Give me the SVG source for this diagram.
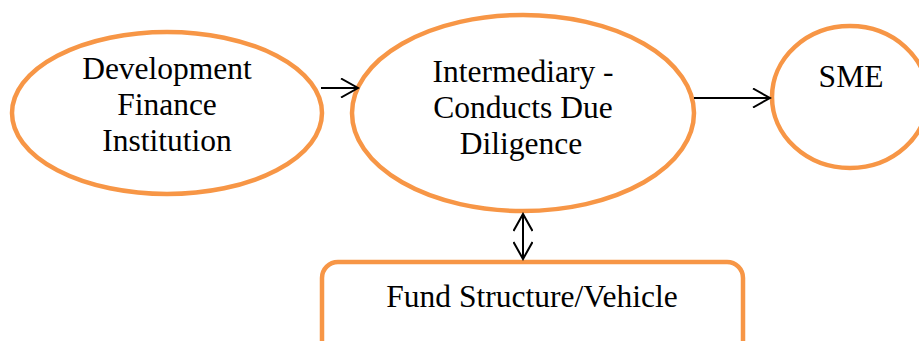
<svg xmlns="http://www.w3.org/2000/svg" width="919" height="341" viewBox="0 0 919 341">
  <style>
    .shape { fill: #ffffff; stroke: #F79646; stroke-width: 4.5; }
    .label { font-family: "Liberation Serif", "Times New Roman", serif; font-size: 31.5px; fill: #000000; text-anchor: middle; }
    .link { stroke: #000000; stroke-width: 2; fill: none; }
  </style>
  <defs>
    <marker id="chevron" viewBox="0 0 20 20" refX="18" refY="10" markerWidth="20" markerHeight="20" markerUnits="userSpaceOnUse" orient="auto-start-reverse">
      <path d="M1,0.5 L18,10 L1,19.5" fill="none" stroke="#000000" stroke-width="2"/>
    </marker>
  </defs>
  <rect width="919" height="341" fill="#ffffff"/>

  <g id="dfi">
    <ellipse class="shape" cx="167" cy="113" rx="155" ry="81"/>
    <text class="label" x="167" y="79">Development</text>
    <text class="label" x="167" y="115">Finance</text>
    <text class="label" x="167" y="151">Institution</text>
  </g>

  <g id="intermediary">
    <ellipse class="shape" cx="523" cy="113" rx="171" ry="98"/>
    <text class="label" x="523" y="82">Intermediary -</text>
    <text class="label" x="523" y="118">Conducts Due</text>
    <text class="label" x="521" y="154">Diligence</text>
  </g>

  <g id="sme">
    <ellipse class="shape" cx="850" cy="97" rx="78" ry="71"/>
    <text class="label" x="851" y="87">SME</text>
  </g>

  <g id="fund">
    <rect class="shape" x="322" y="262" width="421" height="100" rx="16" ry="16"/>
    <text class="label" x="532" y="307">Fund Structure/Vehicle</text>
  </g>

  <g id="connectors">
    <line class="link" x1="321" y1="88" x2="358" y2="88" marker-end="url(#chevron)"/>
    <line class="link" x1="694" y1="98" x2="770" y2="98" marker-end="url(#chevron)"/>
    <line class="link" x1="523" y1="214" x2="523" y2="259" marker-start="url(#chevron)" marker-end="url(#chevron)"/>
  </g>
</svg>
